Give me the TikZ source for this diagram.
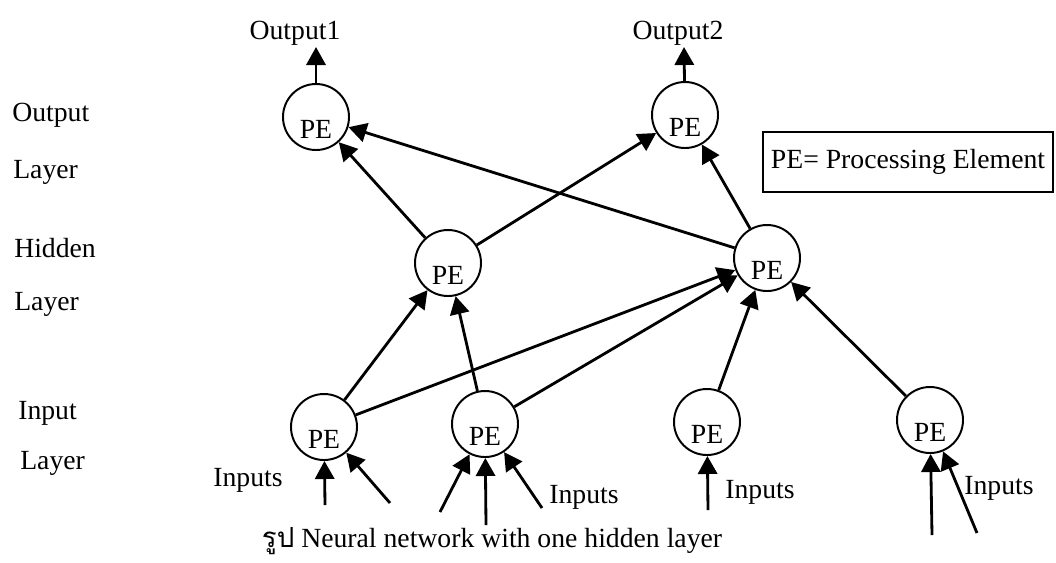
\documentclass[tikz,border=0pt]{standalone}
\usepackage{fontspec}
\setmainfont{Liberation Serif}
\newfontfamily\thaifont[Script=Thai]{Loma}
\usetikzlibrary{arrows.meta}

\begin{document}
\begin{tikzpicture}[x=0.025cm, y=-0.025cm,
    every node/.style={font=\fontsize{19.7}{23}\selectfont},
    pe/.style={circle, draw, line width=1.4pt, minimum size=1.65cm, inner sep=0pt, text height=30pt, text depth=0pt},
    conn/.style={line width=2pt, -{Triangle[length=0.45cm, width=0.48cm]}},
    lbl/.style={anchor=west, inner sep=0pt}]
    \useasboundingbox (0,0) rectangle (1056,562);

    % processing elements
    \node[pe] (o1) at (316,117) {PE};
    \node[pe] (o2) at (685,115) {PE};
    \node[pe] (h1) at (448,263) {PE};
    \node[pe] (h2) at (767,258) {PE};
    \node[pe] (i1) at (324,427) {PE};
    \node[pe] (i2) at (485,424) {PE};
    \node[pe] (i3) at (707,422) {PE};
    \node[pe] (i4) at (930,420) {PE};

    % layer names
    \node[lbl] (lout) at (12,115) {Output};
    \node[lbl] (lout2) at (13,172) {Layer};
    \node[lbl] (lhid) at (14,248) {Hidden};
    \node[lbl] (lhid2) at (14,304) {Layer};
    \node[lbl] (lin) at (18,413) {Input};
    \node[lbl] (lin2) at (20,463) {Layer};

    % outputs and inputs
    \node (out1) at (295,33) {Output1};
    \node (out2) at (678,33) {Output2};
    \coordinate (o1end) at (316,47);
    \coordinate (o2end) at (684,47);
    \node (in1) at (248,480) {Inputs};
    \node (in2) at (584,497) {Inputs};
    \node (in3) at (760,492) {Inputs};
    \node (in4) at (999,488) {Inputs};
    \coordinate (x1a) at (325,505);
    \coordinate (x1b) at (390,503);
    \coordinate (x2a) at (440,512);
    \coordinate (x2b) at (486,525);
    \coordinate (x2c) at (542,508);
    \coordinate (x3a) at (708,510);
    \coordinate (x4a) at (932,535);
    \coordinate (x4b) at (977,533);

    % key and caption
    \node[draw, line width=1pt, minimum width=7.25cm, minimum height=1.5cm] (key) at (908,162) {PE= Processing Element};
    \node (cap) at (492,541) {{\thaifont รูป} Neural network with one hidden layer};

    % connectors
    \draw[conn] (o1) -- (o1end);
    \draw[conn] (o2) -- (o2end);
    \draw[conn] (h1) -- (o1);
    \draw[conn] (h1) -- (o2);
    \draw[conn] (h2) -- (o1);
    \draw[conn] (h2) -- (o2);
    \draw[conn] (i1) -- (h1);
    \draw[conn] (i1) -- (h2);
    \draw[conn] (i2) -- (h1);
    \draw[conn] (i2) -- (h2);
    \draw[conn] (i3) -- (h2);
    \draw[conn] (i4) -- (h2);
    \draw[conn] (x1a) -- (i1);
    \draw[conn] (x1b) -- (i1);
    \draw[conn] (x2a) -- (i2);
    \draw[conn] (x2b) -- (i2);
    \draw[conn] (x2c) -- (i2);
    \draw[conn] (x3a) -- (i3);
    \draw[conn] (x4a) -- (i4);
    \draw[conn] (x4b) -- (i4);
\end{tikzpicture}
\end{document}
